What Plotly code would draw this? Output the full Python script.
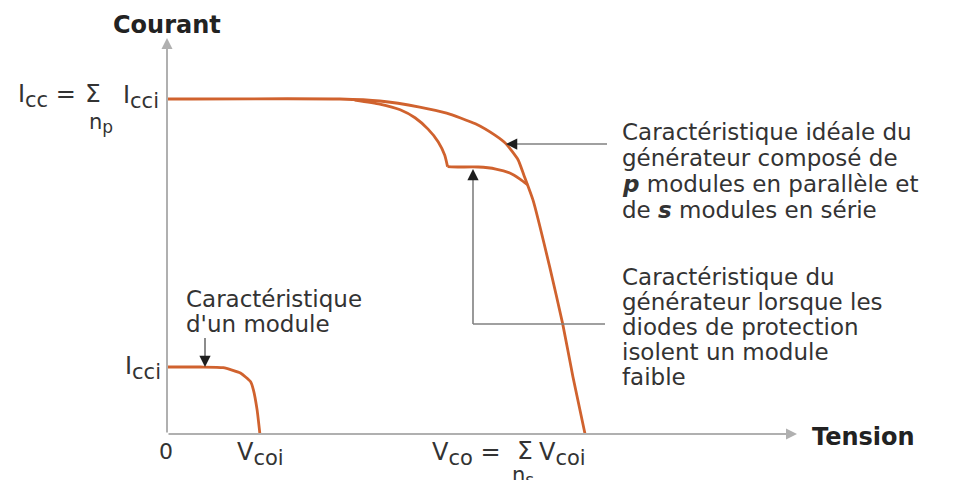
import plotly.graph_objects as go

# ---- data: tension in units of Vcoi, courant in units of Icci ----
v_module = [0.0, 0.36, 0.605, 0.79, 0.90, 0.93, 0.97, 1.0]
i_module = [1.0, 1.0, 0.99, 0.91, 0.78, 0.66, 0.36, 0.0]

v_ideal = [0.0, 1.86, 2.29, 2.72, 3.01, 3.32, 3.53, 3.65, 3.78, 3.84, 3.94, 4.12, 4.26, 4.37, 4.50]
i_ideal = [5.0, 5.0, 4.97, 4.88, 4.79, 4.63, 4.46, 4.33, 4.09, 3.87, 3.49, 2.49, 1.64, 0.85, 0.0]

v_fault = [2.02, 2.29, 2.51, 2.67, 2.81, 2.92, 2.99, 3.02, 3.13, 3.35, 3.54, 3.69, 3.80, 3.88]
i_fault = [4.985, 4.925, 4.84, 4.72, 4.55, 4.36, 4.16, 3.99, 3.985, 3.985, 3.955, 3.895, 3.805, 3.72]
cusp = 7

bloc_ideal = ["Caractéristique idéale du",
              "générateur composé de",
              "<b><i>p</i></b> modules en parallèle et",
              "de <b><i>s</i></b> modules en série"]
bloc_defaut = ["Caractéristique du",
               "générateur lorsque les",
               "diodes de protection",
               "isolent un module",
               "faible"]
bloc_module = ["Caractéristique", "d'un module"]

# ---- layout helpers (screen pixel -> data); the page body adds an 8 px margin ----
W, H = 956, 480
OFF = 8
X0, Y0 = 167, 434
SX, SY = 92.9, 67.0
def X(px): return (px - X0) / SX
def Y(py): return (Y0 - py) / SY

FONT = "DejaVu Sans"
ORANGE = "#d0622e"
TXT = "#333333"

def sub(s, size=21):
    return "<sub><span style='font-size:%dpx'>%s</span></sub>" % (size, s)

fig = go.Figure()
curve = dict(color=ORANGE, width=2.8, shape="spline", smoothing=0.5)
fig.add_trace(go.Scatter(x=v_module, y=i_module, mode="lines", line=curve, hoverinfo="skip"))
fig.add_trace(go.Scatter(x=v_ideal, y=i_ideal, mode="lines", line=curve, hoverinfo="skip"))
fig.add_trace(go.Scatter(x=v_fault[:cusp + 1], y=i_fault[:cusp + 1], mode="lines", line=curve, hoverinfo="skip"))
fig.add_trace(go.Scatter(x=v_fault[cusp:], y=i_fault[cusp:], mode="lines", line=curve, hoverinfo="skip"))

def arrow(tip, tail, color, width, size=1.0, head=2):
    fig.add_annotation(x=X(tip[0]), y=Y(tip[1]), ax=X(tail[0]), ay=Y(tail[1]),
                       xref="x", yref="y", axref="x", ayref="y", text="",
                       showarrow=True, arrowhead=head, arrowsize=size,
                       arrowwidth=width, arrowcolor=color, standoff=0)

def seg(p0, p1, color, width):
    fig.add_shape(type="line", x0=X(p0[0]), y0=Y(p0[1]), x1=X(p1[0]), y1=Y(p1[1]),
                  line=dict(color=color, width=width))

def label(px, py, text, size, anchor="left", color=TXT):
    fig.add_annotation(x=X(px), y=Y(py), text=text, showarrow=False,
                       xref="x", yref="y", xanchor=anchor, yanchor="middle",
                       borderpad=0,
                       font=dict(family=FONT, size=size, color=color))

# axes with arrows
arrow((167, 38), (167, 434), "#b0b0b0", 2, 1.1)
arrow((797, 434), (167, 434), "#b0b0b0", 2, 1.1)

# pointer arrows: grey shaft, dark head
GREY = "#808080"
HEAD = "#1e1e1e"
seg((607, 144), (512, 144), GREY, 1.5)
arrow((506, 144), (516, 144), HEAD, 1.5, 1.5)
seg((605, 324), (473, 324), GREY, 1.6)
seg((473, 324), (473, 178), GREY, 1.6)
arrow((473, 169), (473, 179), HEAD, 1.5, 1.5)
seg((205, 338), (205, 360), "#666666", 1.5)
arrow((205, 367), (205, 357), HEAD, 1.5, 1.5)

# axis titles
label(167, 25, "<b>Courant</b>", 24, "center", "#222222")
label(811, 437, "<b>Tension</b>", 24, "left", "#222222")

# math labels
label(77, 96, "I" + sub("cc") + " =", 24, "right")
label(93, 93, "Σ", 25, "center")
label(122, 97, "I" + sub("cci"), 24, "left")
label(101, 123, "n" + sub("p", 17), 21, "center")
label(124, 368, "I" + sub("cci"), 24, "left")
label(166, 451, "0", 22, "center")
label(236, 454, "V" + sub("coi"), 24, "left")
label(431, 454, "V" + sub("co") + " =", 24, "left")
label(525, 450, "Σ", 25, "center")
label(538, 454, "V" + sub("coi"), 24, "left")
label(523, 476, "n" + sub("s", 17), 21, "center")

# text blocks
for k, t in enumerate(bloc_ideal):
    label(621, 132 + 26 * k, t, 23)
for k, t in enumerate(bloc_defaut):
    label(621, 277 + 25 * k, t, 23)
for k, t in enumerate(bloc_module):
    label(185, 299 + 25 * k, t, 23)

fig.update_layout(
    width=W, height=H, margin=dict(l=0, r=0, t=0, b=0),
    paper_bgcolor="white", plot_bgcolor="white", showlegend=False,
    xaxis=dict(range=[X(OFF), X(OFF + W)], visible=False, fixedrange=True),
    yaxis=dict(range=[Y(OFF + H), Y(OFF)], visible=False, fixedrange=True),
)
fig.write_html("out.html")
